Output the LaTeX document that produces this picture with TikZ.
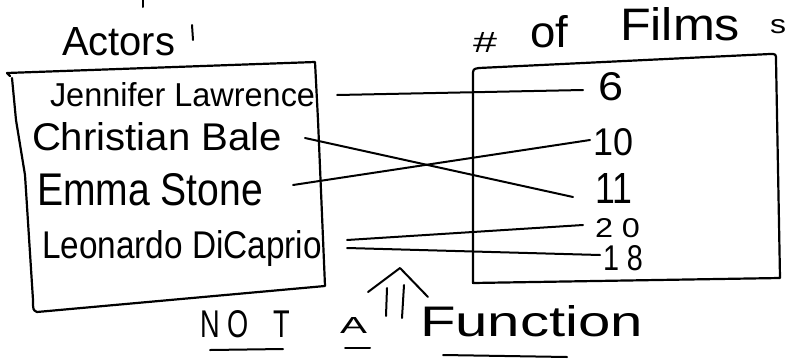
\documentclass[tikz,border=0pt]{standalone}
\usepackage{fontspec}
\setmainfont{Liberation Sans}
\usepackage{graphicx}
% text squeezed into a given width and height (in pt)
\newcommand{\handtext}[3]{\resizebox{#1pt}{#2pt}{#3}}

\begin{document}
\begin{tikzpicture}[x=1pt,y=-1pt,
  frame/.style={line width=2.2pt, line cap=round, line join=round},
  pen/.style={line width=2pt, line cap=round, line join=round},
  link/.style={line width=2pt, line cap=round},
  word/.style={inner sep=0pt, outer sep=0pt, anchor=base west}]
\useasboundingbox (0,0) rectangle (786,359);

% headings
\node[word] (actors) at (62,55) {\handtext{113}{28}{Actors}};
\node[word] (hash) at (473,52) {\handtext{24}{20}{\#}};
\node[word] (of) at (530,47) {\handtext{38}{32}{of}};
\node[word] (films) at (620,40) {\handtext{120}{33}{Films}};
\node[word] (ess) at (770,33) {\handtext{16}{14}{s}};
\draw[pen] (192,25) -- (193,40);
\draw[pen] (143,0) -- (143,7);

% domain box
\draw[frame] (10,76) -- (7,73) -- (315,62) -- (318,120) -- (325,286)
  -- (37,312) .. controls (33,310) .. (33,300) -- (25,175) -- (16,120) -- (12,78);

% range box
\draw[frame] (473,283) -- (473,76) .. controls (473,69) .. (479,68)
  -- (770,54) .. controls (776,54) .. (776,60) -- (780,278) -- cycle;

% actors
\node[word] (jl) at (50,106) {\handtext{265}{24}{Jennifer Lawrence}};
\node[word] (cb) at (32,150) {\handtext{250}{28}{Christian Bale}};
\node[word] (es) at (37,205) {\handtext{226}{32}{Emma Stone}};
\node[word] (ld) at (42,258) {\handtext{280}{28}{Leonardo DiCaprio}};

% film counts
\node[word] (n6)  at (598,100) {\handtext{25}{28}{6}};
\node[word] (n10) at (593,155) {\handtext{40}{27}{10}};
\node[word] (n11) at (595,203) {\handtext{37}{30}{11}};
\node[word] (n20) at (595,237) {\handtext{45}{19}{2 0}};
\node[word] (n18) at (603,270) {\handtext{40}{25}{1 8}};

% pairings
\draw[link] ([shift={(22,-11)}]jl.base east) -- ([shift={(-15,-10)}]n6.base west);
\draw[link] ([shift={(23,-12)}]cb.base east) -- ([shift={(-22,-6)}]n11.base west);
\draw[link] ([shift={(30,-20)}]es.base east) -- ([shift={(-3,-15)}]n10.base west);
\draw[link] ([shift={(25,-18)}]ld.base east) -- ([shift={(-12,-12)}]n20.base west);
\draw[link] ([shift={(25,-10)}]ld.base east) -- ([shift={(-3,-15)}]n18.base west);

% verdict
\node[word] (nt) at (200,337) {\handtext{90}{27}{N\hspace{3pt}O\hspace{9pt}T}};
\node[word] (aa) at (340,333) {\handtext{27}{16}{A}};
\node[word] (fn) at (420,336) {\handtext{223}{31}{Function}};
\draw[pen] (210,350) -- (283,349);
\draw[pen] (345,348) -- (370,348);
\draw[pen] (443,355) -- (567,357);

% insertion caret with its two strokes
\coordinate (caretL) at (368,292);
\coordinate (caretT) at (400,268);
\coordinate (caretR) at (428,297);
\draw[pen] (caretL) -- (caretT) -- (caretR);
\draw[pen] (387,288) -- (386,316);
\draw[pen] (404,285) -- (402,318);
\end{tikzpicture}
\end{document}
